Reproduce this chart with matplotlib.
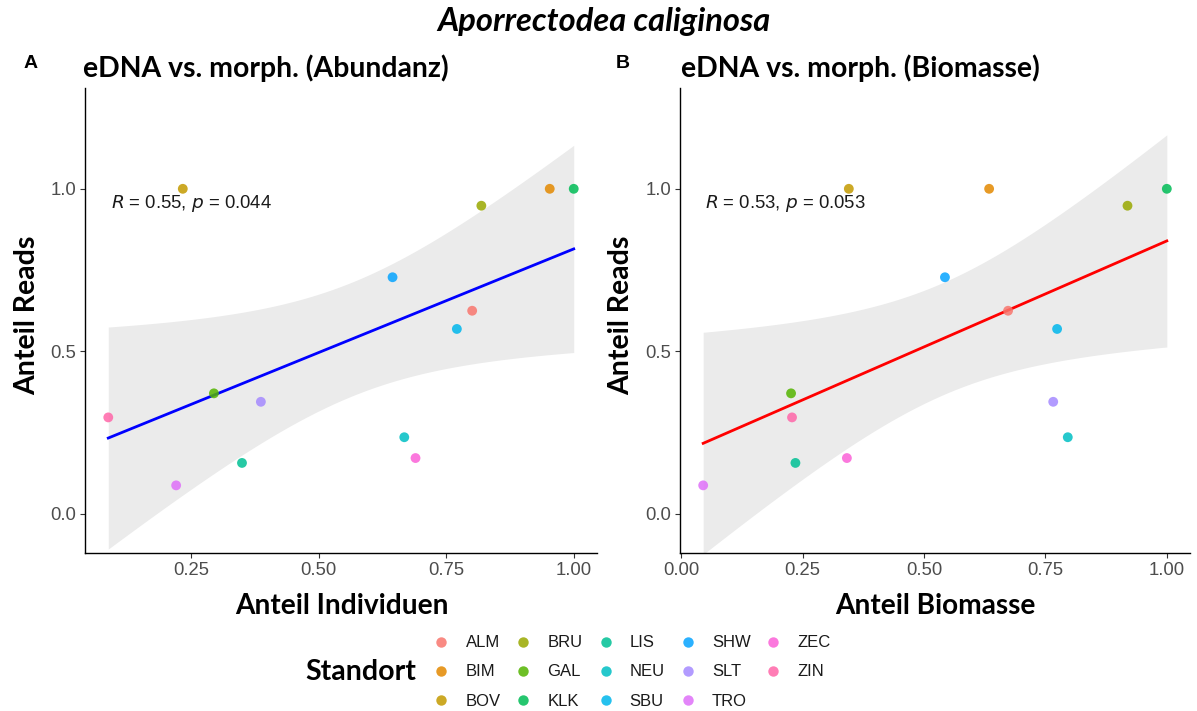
import numpy as np
import matplotlib
matplotlib.use("Agg")
import matplotlib.pyplot as plt
from matplotlib.lines import Line2D

# ---------------- data ----------------
sites = ["ALM", "BIM", "BOV", "BRU", "GAL", "KLK", "LIS",
         "NEU", "SBU", "SHW", "SLT", "TRO", "ZEC", "ZIN"]
site_colors = ["#F8766D", "#E38900", "#C49A00", "#99A800", "#53B400",
               "#00BC56", "#00C094", "#00BFC4", "#00B6EB", "#06A4FF",
               "#A58AFF", "#DF70F8", "#FB61D7", "#FF66A8"]
anteil_reads = [0.625, 1.000, 1.000, 0.948, 0.371, 1.000, 0.157,
                0.236, 0.569, 0.728, 0.345, 0.088, 0.172, 0.297]
anteil_individuen = [0.801, 0.953, 0.234, 0.819, 0.295, 1.000, 0.350,
                     0.668, 0.771, 0.645, 0.387, 0.221, 0.690, 0.088]
anteil_biomasse = [0.673, 0.634, 0.345, 0.919, 0.226, 1.000, 0.235,
                   0.796, 0.774, 0.543, 0.766, 0.045, 0.341, 0.228]
stat_A = (0.55, 0.044)
stat_B = (0.53, 0.053)

main_title = "Aporrectodea caliginosa"
title_A = "eDNA vs. morph. (Abundanz)"
title_B = "eDNA vs. morph. (Biomasse)"
xlabel_A = "Anteil Individuen"
xlabel_B = "Anteil Biomasse"
ylabel = "Anteil Reads"
legend_title = "Standort"

W, H = 1197, 711
fig = plt.figure(figsize=(W / 100, H / 100), dpi=100)

TITLE_FONT = ["Lato", "DejaVu Sans"]
TICK_FONT = ["Liberation Sans", "DejaVu Sans"]
T_975_DF12 = 2.1788  # t quantile for 95% CI, df = n - 2
TICK_SIZE = 13.3


def box(l, t, r, b):
    return [l / W, 1 - b / H, (r - l) / W, (b - t) / H]


def panel(ax, x, y, line_color, stat, ann_x, xticks):
    x = np.asarray(x, float)
    y = np.asarray(y, float)
    n = len(x)
    # linear fit + 95% CI (as geom_smooth(method="lm"))
    b1, b0 = np.polyfit(x, y, 1)
    resid = y - (b0 + b1 * x)
    s = np.sqrt(np.sum(resid ** 2) / (n - 2))
    xs = np.linspace(x.min(), x.max(), 200)
    ys = b0 + b1 * xs
    se = s * np.sqrt(1 / n + (xs - x.mean()) ** 2 / np.sum((x - x.mean()) ** 2))
    ax.fill_between(xs, ys - T_975_DF12 * se, ys + T_975_DF12 * se,
                    color="#EBEBEB", lw=0, zorder=1)
    ax.plot(xs, ys, color=line_color, lw=2.0, zorder=2)
    ax.scatter(x, y, c=site_colors, s=50, alpha=0.85, lw=0, zorder=3)
    rng = x.max() - x.min()
    ax.set_xlim(x.min() - 0.05 * rng, x.max() + 0.05 * rng)
    ax.set_ylim(-0.12, 1.31)
    ax.set_yticks([0.0, 0.5, 1.0])
    ax.set_yticklabels(["0.0", "0.5", "1.0"])
    ax.set_xticks(xticks)
    ax.set_xticklabels([f"{v:.2f}" for v in xticks])
    for sp in ["top", "right"]:
        ax.spines[sp].set_visible(False)
    for sp in ["left", "bottom"]:
        ax.spines[sp].set_linewidth(1.0)
        ax.spines[sp].set_color("black")
    ax.tick_params(length=3.5, width=0.8, color="#333333",
                   labelcolor="#4D4D4D", labelsize=TICK_SIZE, pad=3)
    for lab in ax.get_xticklabels() + ax.get_yticklabels():
        lab.set_family(TICK_FONT)
    ax.text(ann_x, 0.955,
            r"$\mathit{R}$ = %.2f, $\mathit{p}$ = %s" % (stat[0], f"{stat[1]:.3f}"),
            fontsize=TICK_SIZE, family=TICK_FONT, color="#1A1A1A",
            ha="left", va="center", zorder=4)


axA = fig.add_axes(box(85, 88, 597, 553))
axB = fig.add_axes(box(680, 88, 1190, 553))
panel(axA, anteil_individuen, anteil_reads, "#0000FF", stat_A, 0.094,
      [0.25, 0.50, 0.75, 1.00])
panel(axB, anteil_biomasse, anteil_reads, "#FF0000", stat_B, 0.048,
      [0.00, 0.25, 0.50, 0.75, 1.00])

# titles / labels
fig.text(604 / W, 1 - 22 / H, main_title, ha="center", va="center",
         fontsize=23.5, fontweight="bold", fontstyle="italic", family=TITLE_FONT)
fig.text(24 / W, 1 - 64 / H, "A", ha="left", va="center", fontsize=14,
         fontweight="bold", family=TICK_FONT)
fig.text(616 / W, 1 - 64 / H, "B", ha="left", va="center", fontsize=14,
         fontweight="bold", family=TICK_FONT)
fig.text(83 / W, 1 - 68 / H, title_A, ha="left", va="center", fontsize=20.4,
         fontweight="bold", family=TITLE_FONT)
fig.text(681 / W, 1 - 68 / H, title_B, ha="left", va="center", fontsize=20.4,
         fontweight="bold", family=TITLE_FONT)
fig.text(342 / W, 1 - 606 / H, xlabel_A, ha="center", va="center",
         fontsize=20.2, fontweight="bold", family=TITLE_FONT)
fig.text(935 / W, 1 - 606 / H, xlabel_B, ha="center", va="center",
         fontsize=20.2, fontweight="bold", family=TITLE_FONT)
fig.text(27 / W, 1 - 315 / H, ylabel, ha="center", va="center", rotation=90,
         fontsize=20.5, fontweight="bold", family=TITLE_FONT)
fig.text(621 / W, 1 - 315 / H, ylabel, ha="center", va="center", rotation=90,
         fontsize=20.5, fontweight="bold", family=TITLE_FONT)

# legend
handles = [Line2D([], [], ls="", marker="o", markersize=7.5, color=c,
                  markeredgewidth=0, alpha=0.85) for c in site_colors]
leg = fig.legend(handles, sites, ncol=5, loc="center left",
                 bbox_to_anchor=(418 / W, 1 - 672 / H), frameon=False,
                 prop={"family": TICK_FONT, "size": 12},
                 handlelength=1.0, handletextpad=0.95, columnspacing=0.87,
                 labelspacing=0.85, labelcolor="#1A1A1A")
fig.text(361 / W, 1 - 672 / H, legend_title, ha="center", va="center",
         fontsize=20.5, fontweight="bold", family=TITLE_FONT)

fig.savefig("out.png", dpi=100)
